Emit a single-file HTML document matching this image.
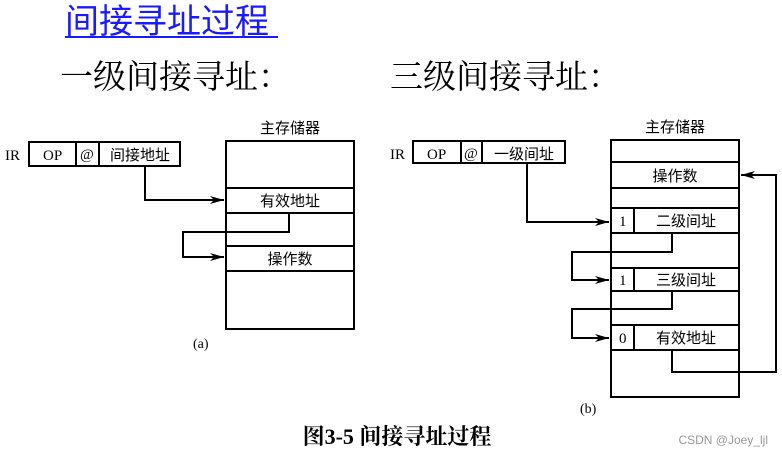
<!DOCTYPE html>
<html><head><meta charset="utf-8"><style>
body{margin:0;background:#fff;}
svg{display:block}
</style></head><body>
<svg width="782" height="456" xmlns="http://www.w3.org/2000/svg" font-family="'Liberation Serif','Noto Serif CJK SC',serif">
<defs><marker id="ar" markerWidth="14" markerHeight="8" refX="14" refY="4" orient="auto" markerUnits="userSpaceOnUse"><path d="M0,0 L14,4 L0,8 L4,4 Z" fill="#000"/></marker></defs>
<text x="65" y="33" font-size="34" fill="#1a1aff" font-family="'Noto Sans CJK SC',sans-serif">间接寻址过程</text>
<line x1="65" y1="37" x2="278" y2="37" stroke="#1a1aff" stroke-width="2"/>
<text x="60" y="88" font-size="33" font-family="'Noto Serif CJK SC',serif">一级间接寻址：</text>
<text x="390" y="88" font-size="33" font-family="'Noto Serif CJK SC',serif">三级间接寻址：</text>
<g stroke="#000" stroke-width="2" fill="none">
<rect x="29" y="142" width="151" height="24"/><line x1="76" y1="142" x2="76" y2="166"/><line x1="99" y1="142" x2="99" y2="166"/>
<rect x="226" y="141" width="128" height="188"/>
<line x1="226" y1="188" x2="354" y2="188"/><line x1="226" y1="213" x2="354" y2="213"/><line x1="226" y1="246" x2="354" y2="246"/><line x1="226" y1="271" x2="354" y2="271"/>
<polyline points="145,166 145,200 224,200" marker-end="url(#ar)"/>
<polyline points="289,213 289,232 183,232 183,257 224,257" marker-end="url(#ar)"/>
<rect x="413" y="141" width="152" height="22"/><line x1="461" y1="141" x2="461" y2="163"/><line x1="482" y1="141" x2="482" y2="163"/>
<rect x="611" y="140" width="128" height="257"/>
<line x1="611" y1="162" x2="739" y2="162"/><line x1="611" y1="188" x2="739" y2="188"/><line x1="611" y1="208" x2="739" y2="208"/><line x1="611" y1="233" x2="739" y2="233"/><line x1="611" y1="268" x2="739" y2="268"/><line x1="611" y1="291" x2="739" y2="291"/><line x1="611" y1="325" x2="739" y2="325"/><line x1="611" y1="350" x2="739" y2="350"/>
<line x1="634" y1="208" x2="634" y2="233"/><line x1="634" y1="268" x2="634" y2="291"/><line x1="634" y1="325" x2="634" y2="350"/>
<polyline points="527,163 527,222 609,222" marker-end="url(#ar)"/>
<polyline points="672,233 672,252 572,252 572,280 609,280" marker-end="url(#ar)"/>
<polyline points="672,291 672,309 572,309 572,338 609,338" marker-end="url(#ar)"/>
<polyline points="672,350 672,372 776,372 776,175 741,175" marker-end="url(#ar)"/>
</g>
<g font-size="15" font-family="'Liberation Serif',serif">
<text x="5" y="160">IR</text><text x="43" y="160">OP</text><text x="80" y="159">@</text>
<text x="390" y="159">IR</text><text x="427" y="159">OP</text><text x="464" y="158">@</text>
<text x="619" y="226">1</text><text x="619" y="285">1</text><text x="619" y="343">0</text>
<text x="193" y="348" font-size="14">(a)</text><text x="580" y="413" font-size="14">(b)</text>
</g>
<g font-size="15" font-family="'Noto Sans CJK SC',sans-serif" text-anchor="middle">
<text x="140" y="160">间接地址</text>
<text x="290" y="133">主存储器</text>
<text x="290" y="206">有效地址</text>
<text x="290" y="264">操作数</text>
<text x="524" y="159">一级间址</text>
<text x="675" y="132">主存储器</text>
<text x="675" y="181">操作数</text>
<text x="686" y="226">二级间址</text>
<text x="686" y="285">三级间址</text>
<text x="686" y="343">有效地址</text>
</g>
<text x="397" y="444" font-size="22" font-weight="bold" text-anchor="middle" font-family="'Liberation Serif','Noto Serif CJK SC',serif">图3-5 间接寻址过程</text>
<text x="768" y="444" font-size="12" fill="#999" text-anchor="end" font-family="'Liberation Sans',sans-serif">CSDN @Joey_ljl</text>
</svg>
</body></html>
